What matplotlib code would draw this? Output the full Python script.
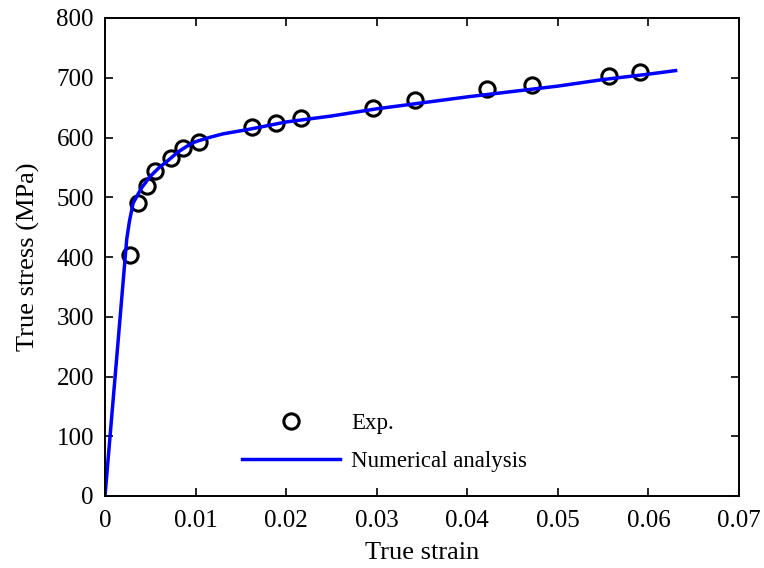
import matplotlib
matplotlib.use("Agg")
import matplotlib.pyplot as plt

exp_strain = [0.00276, 0.00368, 0.00467, 0.00552, 0.00729, 0.00858, 0.01038,
              0.0162, 0.0189, 0.0216, 0.0296, 0.0342, 0.0422, 0.0471, 0.0556, 0.0591]
exp_stress = [404, 490, 519, 544, 565, 583, 593,
              617, 625, 632, 650, 663, 681, 688, 703, 709]

num_strain = [0, 0.0024, 0.0027, 0.0031, 0.004, 0.005, 0.006, 0.007, 0.008, 0.009,
              0.010, 0.0115, 0.013, 0.016, 0.02, 0.025, 0.03, 0.035, 0.04, 0.045,
              0.05, 0.055, 0.06, 0.063]
num_stress = [0, 430, 460, 490, 515, 535, 550, 562, 575, 585,
              593, 600, 606, 614, 626, 636, 648, 658, 668, 677,
              686, 697, 706, 712]

xticks = [0, 0.01, 0.02, 0.03, 0.04, 0.05, 0.06, 0.07]
xticklabels = ["0", "0.01", "0.02", "0.03", "0.04", "0.05", "0.06", "0.07"]
yticks = [0, 100, 200, 300, 400, 500, 600, 700, 800]

plt.rcParams['font.family'] = ['Liberation Serif', 'DejaVu Serif']

fig = plt.figure(figsize=(7.64, 5.68), dpi=100)
ax = fig.add_axes([105/764, 72/568, 634/764, 478/568])

ax.plot(exp_strain, exp_stress, linestyle='none', marker='o', markersize=11,
        markerfacecolor='none', markeredgecolor='black', markeredgewidth=2.2,
        label='Exp.')
ax.plot(num_strain, num_stress, color='#0000ff', linewidth=2.5,
        label='Numerical analysis')

ax.set_xlim(0, 0.07)
ax.set_ylim(0, 800)
ax.set_xticks(xticks)
ax.set_xticklabels(xticklabels)
ax.set_yticks(yticks)
ax.tick_params(direction='in', top=True, right=True, length=6, width=1.2,
               labelsize=18)
ax.tick_params(axis='x', pad=10)
ax.tick_params(axis='y', pad=8)
for s in ax.spines.values():
    s.set_linewidth(1.4)

ax.set_xlabel('True strain', fontsize=19, labelpad=7)
ax.set_ylabel('True stress (MPa)', fontsize=19, labelpad=12)

leg = ax.legend(loc='center left', bbox_to_anchor=(0.216, 0.112), frameon=False,
                fontsize=16.5, handlelength=4.27, handletextpad=0.48,
                labelspacing=0.77, borderpad=0, borderaxespad=0)

fig.savefig('out.png', dpi=100)
